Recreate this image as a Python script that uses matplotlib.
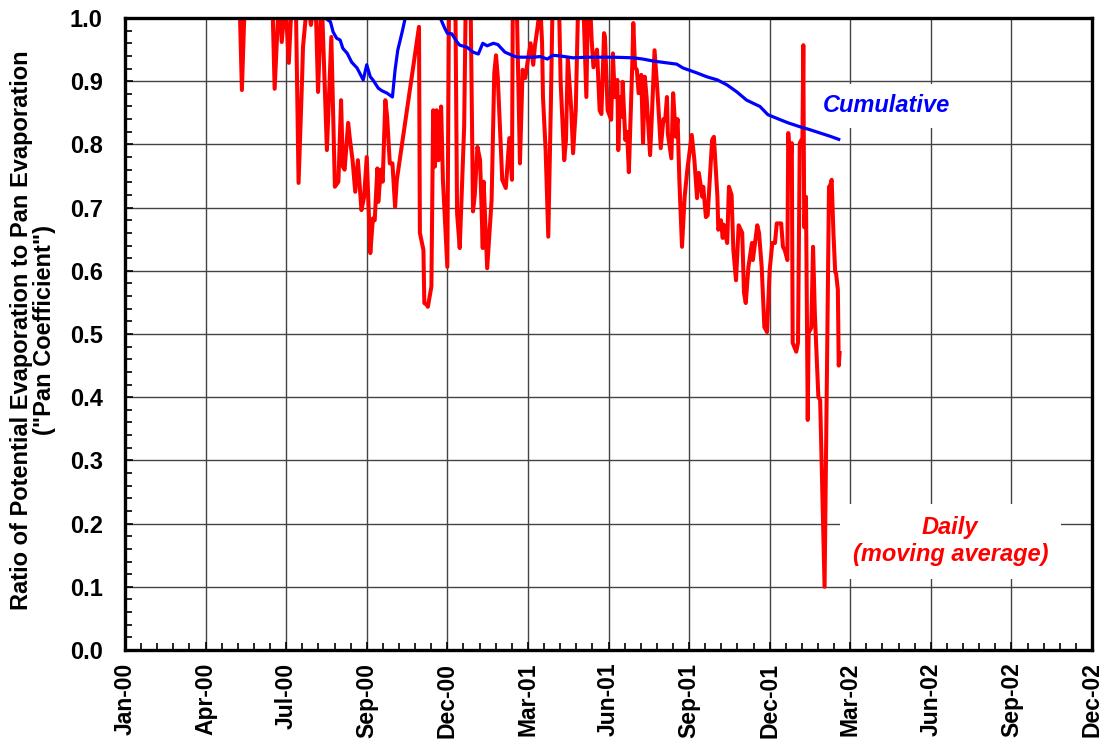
import numpy as np
import pandas as pd
import matplotlib
matplotlib.use("Agg")
import matplotlib.pyplot as plt
from matplotlib.ticker import MultipleLocator

plt.rcParams['font.family'] = ['Liberation Sans', 'DejaVu Sans']
plt.rcParams['font.weight'] = 'bold'

# days counted from 1 Jan 2000
daily_day = [129, 132, 136, 148, 166, 169, 174, 177, 181, 185, 189, 193, 196, 200, 201, 206, 210, 215, 218, 222,
             228, 233, 237, 241, 244, 246, 248, 252, 254, 257, 260, 263, 267, 270, 273, 277, 280, 282, 285, 286,
             289, 291, 294, 296, 299, 302, 305, 307, 332, 333, 337, 338, 341, 342, 346, 348, 350, 352, 354, 357,
             359, 364, 366, 369, 373, 375, 378, 383, 385, 390, 393, 395, 398, 401, 404, 405, 409, 412, 414, 417,
             419, 421, 426, 430, 431, 434, 437, 438, 442, 446, 449, 452, 455, 458, 461, 463, 465, 469, 471, 472,
             475, 478, 481, 483, 488, 490, 492, 496, 498, 500, 504, 506, 509, 512, 517, 521, 523, 525, 527, 529,
             533, 536, 538, 541, 542, 545, 549, 551, 553, 556, 557, 559, 561, 562, 565, 567, 569, 573, 574, 576,
             578, 580, 583, 585, 587, 589, 593, 595, 598, 601, 603, 605, 608, 610, 612, 613, 617, 619, 622, 624,
             626, 629, 632, 635, 640, 643, 646, 648, 652, 653, 656, 658, 663, 665, 669, 670, 673, 675, 676, 680,
             682, 685, 687, 690, 693, 697, 699, 701, 704, 708, 709, 714, 716, 719, 722, 725, 728, 731, 734, 736,
             741, 743, 745, 748, 749, 751, 753, 754, 758, 760, 762, 765, 766, 767, 769, 771, 772, 775, 777, 779,
             783, 785, 790, 795, 796, 798, 800, 802, 803, 805, 806, 807]
daily_val = [1.05, 0.886, 1.06, 1.10, 1.05, 0.888, 1.04, 0.962, 1.03, 0.929, 1.05, 1.02, 0.739, 0.905, 0.954, 1.03, 0.989, 1.04, 0.883, 1.04,
             0.791, 0.970, 0.733, 0.741, 0.870, 0.765, 0.760, 0.834, 0.808, 0.775, 0.725, 0.775, 0.696, 0.717, 0.780, 0.628, 0.683, 0.680, 0.762, 0.709,
             0.760, 0.741, 0.870, 0.844, 0.770, 0.770, 0.701, 0.744, 0.986, 0.660, 0.633, 0.549, 0.546, 0.543, 0.575, 0.854, 0.765, 0.854, 0.775, 0.860,
             0.744, 0.606, 1.05, 1.08, 1.04, 0.691, 0.636, 0.828, 1.05, 1.06, 0.694, 0.720, 0.796, 0.775, 0.636, 0.741, 0.604, 0.669, 0.712, 0.913,
             0.941, 0.905, 0.744, 0.731, 0.750, 0.810, 0.744, 1.05, 1.05, 0.770, 0.918, 0.905, 0.934, 0.960, 0.926, 0.957, 0.976, 1.02, 0.960, 0.875,
             0.791, 0.654, 0.870, 1.04, 1.05, 1.03, 0.897, 0.775, 0.807, 0.937, 0.854, 0.786, 0.854, 1.04, 1.05, 0.875, 1.04, 1.03, 0.965, 0.922,
             0.950, 0.854, 0.848, 0.976, 0.970, 0.854, 0.839, 0.944, 0.875, 0.902, 0.791, 0.875, 0.844, 0.899, 0.807, 0.820, 0.756, 0.934, 0.992, 0.922,
             0.918, 0.881, 0.910, 0.802, 0.907, 0.875, 0.783, 0.846, 0.949, 0.890, 0.844, 0.794, 0.840, 0.838, 0.875, 0.817, 0.778, 0.881, 0.812, 0.840,
             0.744, 0.638, 0.717, 0.760, 0.815, 0.775, 0.715, 0.755, 0.717, 0.733, 0.685, 0.688, 0.807, 0.812, 0.717, 0.665, 0.680, 0.652, 0.673, 0.644,
             0.733, 0.720, 0.633, 0.585, 0.672, 0.660, 0.565, 0.549, 0.606, 0.644, 0.617, 0.672, 0.660, 0.606, 0.511, 0.503, 0.601, 0.644, 0.644, 0.675,
             0.675, 0.638, 0.633, 0.617, 0.818, 0.765, 0.802, 0.486, 0.472, 0.486, 0.802, 0.810, 0.957, 0.669, 0.717, 0.364, 0.502, 0.510, 0.638, 0.533,
             0.400, 0.396, 0.100, 0.733, 0.733, 0.744, 0.660, 0.598, 0.596, 0.570, 0.450, 0.470]

cum_day = [129, 200, 226, 232, 235, 239, 243, 246, 251, 256, 262, 265, 269, 273, 277, 280, 286, 290, 296, 302,
           305, 308, 313, 316, 320, 333, 350, 356, 361, 364, 369, 375, 378, 386, 393, 399, 404, 409, 416, 421,
           429, 437, 443, 461, 469, 477, 483, 491, 506, 522, 551, 574, 585, 596, 612, 623, 630, 646, 657, 669,
           680, 691, 702, 717, 726, 740, 749, 762, 774, 785, 796, 806]
cum_val = [1.20, 1.05, 1.0, 0.994, 0.978, 0.968, 0.965, 0.952, 0.944, 0.930, 0.921, 0.913, 0.902, 0.926, 0.907, 0.902, 0.889, 0.885, 0.881, 0.875,
           0.918, 0.949, 0.978, 0.997, 1.01, 1.03, 1.01, 1.0, 0.984, 0.976, 0.975, 0.962, 0.957, 0.954, 0.946, 0.943, 0.960, 0.956, 0.960, 0.958,
           0.946, 0.941, 0.938, 0.938, 0.939, 0.935, 0.941, 0.940, 0.937, 0.938, 0.938, 0.937, 0.935, 0.932, 0.929, 0.927, 0.921, 0.913, 0.907, 0.902,
           0.894, 0.883, 0.870, 0.860, 0.847, 0.839, 0.834, 0.828, 0.823, 0.818, 0.813, 0.808]

start = pd.Timestamp('2000-01-01')
tick_days = np.arange(0, 1093, 91)
tick_labels = [(start + pd.Timedelta(days=int(d))).strftime('%b-%y') for d in tick_days]

fig = plt.figure(figsize=(11.02, 7.44), dpi=100)
ax = fig.add_axes([125/1102, 94/744, 967/1102, 632/744])

ax.plot(daily_day, daily_val, color='#ff0000', lw=2.9, zorder=4, solid_joinstyle='round')
ax.plot(cum_day, cum_val, color='#0000ff', lw=2.3, zorder=5)

ax.set_xlim(0, 1092)
ax.set_ylim(0, 1.0)
ax.set_xticks(tick_days)
ax.set_xticklabels(tick_labels, rotation=90, fontsize=16.5, fontweight='bold')
ax.xaxis.set_minor_locator(MultipleLocator(91/5))
ax.set_yticks(np.arange(0, 1.01, 0.1))
ax.set_yticklabels([f'{v:.1f}' for v in np.arange(0, 1.01, 0.1)], fontsize=17, fontweight='bold')
ax.yaxis.set_minor_locator(MultipleLocator(0.02))

ax.tick_params(which='both', direction='in', width=1.2, color='black')
ax.tick_params(which='major', length=6)
ax.tick_params(axis='x', which='major', pad=9)
ax.tick_params(axis='y', which='major', pad=16)
ax.tick_params(which='minor', length=5)
ax.grid(True, which='major', color='#444444', lw=1.0, zorder=1)
for s in ax.spines.values():
    s.set_linewidth(2.4)
    s.set_zorder(6)

fig.text(33/1102, 1 - 330/744, 'Ratio of Potential Evaporation to Pan Evaporation\n("Pan Coefficient")',
         rotation=90, ha='center', va='center', fontsize=17, fontweight='bold', linespacing=1.05)

ax.text(860, 0.861, 'Cumulative', color='#0000ff', fontsize=17, fontweight='bold', style='italic',
        ha='center', va='center', zorder=3,
        bbox=dict(boxstyle='square,pad=0.45', fc='white', ec='none'))
ax.text(932, 0.172, 'Daily\n(moving average)', color='#ff0000', fontsize=17, fontweight='bold', style='italic',
        ha='center', va='center', zorder=3, linespacing=1.2,
        bbox=dict(boxstyle='square,pad=0.55', fc='white', ec='none'))

fig.savefig('out.png', dpi=100)
